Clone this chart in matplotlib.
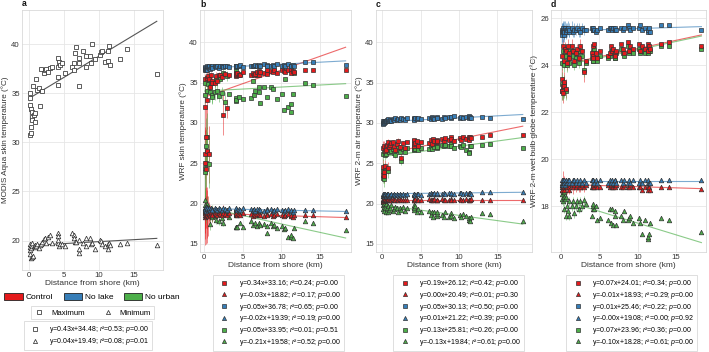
import matplotlib
matplotlib.use('Agg')
import matplotlib.pyplot as plt
from matplotlib.lines import Line2D
from matplotlib.patches import Patch
import numpy as np

plt.rcParams['font.family'] = ['Liberation Sans', 'DejaVu Sans']
plt.rcParams['mathtext.fontset'] = 'custom'
plt.rcParams['mathtext.rm'] = 'Liberation Sans'
plt.rcParams['mathtext.it'] = 'Liberation Sans:italic'

# ---------------- data ----------------
distance_km = [0.1, 0.12, 0.15, 0.2, 0.25, 0.3, 0.35, 0.4, 0.45, 0.5,
               0.6, 0.7, 0.8, 0.9, 1.0, 1.1, 1.4, 1.6, 1.7, 1.9,
               2.1, 2.3, 2.5, 2.7, 3.0, 3.3, 4.1, 4.2, 4.2, 4.2,
               4.3, 4.5, 4.7, 5.1, 6.1, 6.4, 6.5, 6.6, 6.8, 7.1,
               7.1, 7.2, 7.8, 8.1, 8.2, 8.7, 8.9, 9.0, 9.4, 10.1,
               10.3, 10.5, 10.9, 11.3, 11.3, 11.5, 11.6, 13.0, 14.1, 18.3]

# panel a: MODIS Aqua skin temperature
modis_max = [34.5, 35.0, 33.8, 30.8, 33.4, 31.0, 31.6, 32.6, 33.1, 32.3,
             35.8, 32.8, 32.1, 33.0, 36.5, 35.3, 35.6, 33.7, 37.5, 35.2,
             37.1, 37.4, 37.5, 37.2, 37.6, 37.7, 37.7, 38.6, 36.7, 35.9,
             38.2, 37.9, 38.1, 37.1, 37.7, 37.4, 38.1, 39.1, 39.7, 38.6,
             35.8, 38.1, 39.3, 38.8, 37.7, 38.8, 38.1, 40.0, 38.5, 38.9,
             39.2, 39.3, 38.2, 38.3, 39.3, 39.8, 37.9, 38.5, 39.5, 37.0]
modis_min = [19.0, 19.3, 18.6, 19.6, 19.25, 18.2, 19.5, 18.3, 19.4, 19.7,
             18.4, 19.4, 19.5, 19.3, 19.4, 19.6, 19.25, 19.5, 19.6, 19.9,
             20.2, 20.3, 19.8, 20.4, 20.6, 19.8, 20.8, 20.5, 19.7, 20.1,
             19.4, 19.6, 19.6, 19.4, 20.8, 20.6, 20.3, 19.9, 19.9, 20.1,
             18.7, 19.1, 19.8, 20.3, 19.4, 20.3, 19.6, 19.7, 19.1, 20.1,
             20.0, 19.6, 19.4, 19.1, 19.6, 19.8, 19.5, 19.6, 19.7, 19.5]
a_slope = [0.43, 0.04]
a_intercept = [34.48, 19.49]
a_r2 = [0.53, 0.08]
a_p = [0.00, 0.01]

# panel b: WRF skin temperature
b_ctrl_max = [26.1, 35.5, 32.0, 25.0, 28.3, 24.3, 35.6, 32.8, 26.5, 35.8,
              26.1, 35.5, 34.5, 35.9, 35.2, 34.9, 34.9, 35.8, 35.2, 36.0,
              35.9, 35.7, 31.0, 36.1, 31.8, 36.0, 36.2, 35.8, 36.0, 36.1,
              36.2, 36.0, 35.9, 36.3, 36.0, 36.2, 35.9, 36.1, 36.3, 36.4,
              36.0, 36.3, 36.2, 36.5, 36.1, 36.4, 36.3, 36.6, 36.2, 36.5,
              36.4, 36.3, 36.6, 36.5, 36.2, 36.4, 36.3, 36.5, 36.6, 36.5]
b_ctrl_min = [18.6, 18.9, 18.4, 18.8, 18.5, 19.0, 18.7, 18.6, 18.9, 18.5,
              18.7, 18.8, 18.6, 18.9, 18.7, 18.6, 18.8, 18.7, 18.6, 18.8,
              18.7, 18.6, 18.8, 18.7, 18.6, 18.8, 18.7, 18.6, 18.7, 18.8,
              18.6, 18.7, 18.6, 18.8, 18.7, 18.5, 18.7, 18.6, 18.7, 18.6,
              18.7, 18.6, 18.5, 18.7, 18.6, 18.7, 18.5, 18.6, 18.7, 18.6,
              18.5, 18.6, 18.7, 18.5, 18.6, 18.4, 18.6, 18.6, 18.6, 18.4]
b_nolake_max = [36.6, 36.8, 36.7, 36.9, 36.5, 36.8, 36.7, 37.0, 36.6, 36.9,
                36.8, 37.0, 36.7, 36.9, 37.1, 36.8, 37.0, 36.9, 37.1, 36.8,
                37.0, 37.1, 36.9, 37.0, 37.1, 36.9, 37.0, 37.1, 36.9, 37.0,
                37.1, 37.0, 37.2, 36.9, 37.0, 37.1, 37.0, 37.2, 37.1, 37.0,
                37.2, 37.1, 37.3, 37.2, 37.0, 37.1, 37.2, 37.0, 37.3, 37.1,
                37.2, 37.0, 37.3, 37.1, 37.0, 37.2, 37.1, 37.5, 37.5, 37.2]
b_nolake_min = [19.4, 19.2, 19.5, 19.3, 19.6, 19.1, 19.4, 19.3, 19.5, 19.2,
                19.3, 19.4, 19.2, 19.5, 19.3, 19.2, 19.4, 19.3, 19.2, 19.4,
                19.3, 19.2, 19.4, 19.3, 19.2, 19.4, 19.3, 19.2, 19.3, 19.4,
                19.2, 19.3, 19.2, 19.4, 19.3, 19.2, 19.3, 19.1, 19.3, 19.2,
                19.3, 19.2, 19.1, 19.3, 19.2, 19.3, 19.1, 19.2, 19.3, 19.2,
                19.1, 19.2, 19.3, 19.1, 19.2, 19.0, 19.2, 19.2, 19.2, 19.1]
b_nourban_max = [23.9, 33.5, 24.4, 35.0, 25.0, 27.1, 34.0, 28.2, 26.4, 34.8,
                 24.9, 35.3, 33.8, 34.9, 33.5, 33.2, 33.8, 35.5, 34.0, 33.4,
                 35.5, 33.7, 36.2, 32.6, 35.8, 33.6, 32.7, 36.5, 33.1, 32.8,
                 36.0, 33.2, 36.1, 33.0, 33.1, 35.2, 33.5, 34.0, 36.0, 34.5,
                 33.8, 32.5, 34.5, 33.2, 36.3, 34.4, 34.2, 36.4, 33.0, 33.6,
                 31.6, 35.5, 32.0, 32.3, 31.4, 33.6, 36.2, 34.9, 34.7, 33.3]
b_nourban_min = [20.5, 19.4, 19.8, 19.1, 18.6, 19.5, 20.0, 18.9, 19.6, 19.2,
                 18.8, 19.4, 17.5, 19.0, 18.3, 19.3, 18.5, 18.0, 19.1, 17.9,
                 19.0, 18.2, 17.6, 18.8, 19.1, 18.4, 17.1, 19.0, 17.1, 18.8,
                 17.1, 18.9, 17.6, 17.1, 17.8, 17.4, 19.1, 17.6, 17.2, 17.6,
                 19.0, 17.4, 17.5, 16.3, 17.2, 17.6, 17.2, 17.4, 17.0, 17.2,
                 16.9, 17.0, 15.8, 15.9, 16.1, 15.7, 17.0, 17.8, 17.6, 16.7]
# error bars for the 25 stations nearest to shore
b_ctrl_max_err = [3.0, 0.6, 4.0, 4.5, 3.5, 5.0, 0.5, 3.5, 3.0, 0.5, 3.5, 0.6, 1.0,
                  0.4, 0.5, 0.6, 0.4, 0.5, 0.4, 0.3, 0.3, 0.4, 2.5, 0.3, 1.2]
b_ctrl_min_err = [3.0, 2.0, 3.5, 2.5, 3.5, 2.0, 3.0, 3.5, 2.0, 2.5, 1.5, 1.0, 1.2,
                  0.8, 1.0, 0.8, 0.6, 0.5, 0.5, 0.4, 0.4, 0.3, 1.0, 0.3, 0.4]
b_nolake_max_err = [0.3, 0.2, 0.3, 0.2, 0.3, 0.2, 0.2, 0.3, 0.2, 0.2, 0.2, 0.2, 0.2,
                    0.2, 0.2, 0.2, 0.2, 0.2, 0.2, 0.2, 0.2, 0.2, 0.2, 0.2, 0.2]
b_nolake_min_err = [0.4, 0.3, 0.4, 0.3, 0.4, 0.3, 0.3, 0.3, 0.3, 0.3, 0.3, 0.2, 0.2,
                    0.2, 0.2, 0.2, 0.2, 0.2, 0.2, 0.2, 0.2, 0.2, 0.2, 0.2, 0.2]
b_nourban_max_err = [3.0, 1.0, 3.5, 0.8, 3.0, 3.5, 1.0, 3.0, 2.5, 0.8, 3.0, 1.0, 1.2,
                     0.8, 1.0, 0.8, 1.0, 0.6, 1.0, 0.8, 0.5, 0.8, 0.5, 1.2, 0.6]
b_nourban_min_err = [1.0, 0.8, 1.2, 0.6, 1.0, 0.8, 1.0, 0.6, 0.8, 0.6, 0.5, 0.6, 0.8,
                     0.5, 0.6, 0.5, 0.4, 0.5, 0.4, 0.5, 0.4, 0.5, 0.4, 0.5, 0.4]
b_slope = [0.34, -0.03, 0.05, -0.02, 0.05, -0.21]
b_intercept = [33.16, 18.82, 36.78, 19.39, 33.95, 19.58]
b_r2 = [0.24, 0.17, 0.65, 0.19, 0.01, 0.52]
b_p = [0.00, 0.00, 0.00, 0.00, 0.51, 0.00]

# panel c: WRF 2-m air temperature
c_ctrl_max = [26.9, 23.6, 24.5, 23.4, 27.2, 23.9, 26.5, 24.6, 27.0, 26.7,
              27.3, 24.4, 27.6, 27.0, 27.3, 27.5, 27.6, 27.0, 26.7, 27.4,
              27.8, 27.0, 25.6, 27.5, 26.9, 27.6, 27.7, 27.2, 27.4, 27.9,
              27.5, 27.8, 27.2, 27.6, 27.5, 27.9, 27.4, 28.0, 27.7, 27.6,
              27.9, 27.7, 28.0, 27.8, 28.1, 27.9, 28.3, 28.0, 27.8, 28.1,
              27.9, 28.2, 28.0, 28.3, 27.9, 28.2, 28.1, 28.3, 28.5, 28.5]
c_ctrl_min = [20.4, 20.6, 20.3, 20.5, 20.7, 20.4, 20.5, 20.6, 20.4, 20.5,
              20.5, 20.4, 20.6, 20.5, 20.4, 20.5, 20.6, 20.5, 20.4, 20.5,
              20.5, 20.6, 20.4, 20.5, 20.5, 20.4, 20.6, 20.5, 20.4, 20.5,
              20.6, 20.5, 20.4, 20.5, 20.6, 20.5, 20.4, 20.5, 20.6, 20.5,
              20.5, 20.4, 20.6, 20.5, 20.5, 20.4, 20.6, 20.5, 20.5, 20.6,
              20.5, 20.4, 20.6, 20.5, 20.4, 20.5, 20.6, 20.5, 20.5, 20.5]
c_nolake_max = [30.0, 30.2, 29.9, 30.1, 30.3, 30.0, 30.2, 30.1, 30.3, 30.2,
                30.4, 30.2, 30.5, 30.3, 30.4, 30.3, 30.5, 30.4, 30.6, 30.4,
                30.5, 30.4, 30.6, 30.5, 30.4, 30.6, 30.5, 30.6, 30.5, 30.4,
                30.6, 30.5, 30.6, 30.5, 30.6, 30.5, 30.7, 30.6, 30.5, 30.6,
                30.7, 30.6, 30.5, 30.7, 30.6, 30.7, 30.6, 30.7, 30.8, 30.6,
                30.7, 30.6, 30.7, 30.6, 30.8, 30.7, 30.6, 30.7, 30.6, 30.5]
c_nolake_min = [21.0, 21.2, 20.9, 21.1, 21.2, 21.0, 21.1, 21.2, 21.0, 21.1,
                21.2, 21.1, 21.2, 21.0, 21.1, 21.2, 21.1, 21.2, 21.1, 21.2,
                21.1, 21.2, 21.1, 21.2, 21.1, 21.2, 21.2, 21.1, 21.2, 21.2,
                21.1, 21.2, 21.2, 21.1, 21.2, 21.3, 21.2, 21.2, 21.3, 21.2,
                21.2, 21.3, 21.2, 21.3, 21.2, 21.3, 21.2, 21.3, 21.2, 21.3,
                21.3, 21.2, 21.3, 21.3, 21.2, 21.3, 21.2, 21.4, 21.4, 21.4]
c_nourban_max = [26.2, 23.2, 24.0, 23.0, 26.5, 23.5, 26.0, 24.2, 26.4, 26.1,
                 26.6, 24.0, 26.9, 26.4, 26.7, 26.5, 26.8, 26.3, 26.0, 26.7,
                 27.0, 26.4, 25.3, 26.8, 26.4, 26.9, 27.0, 26.6, 26.8, 27.1,
                 26.8, 27.1, 26.6, 26.9, 26.8, 27.2, 26.8, 27.3, 27.0, 26.9,
                 27.2, 27.0, 27.3, 27.1, 27.3, 27.1, 27.4, 27.2, 26.9, 27.2,
                 27.0, 27.3, 26.6, 26.4, 26.3, 27.1, 27.2, 27.3, 27.4, 26.9]
c_nourban_min = [20.2, 19.8, 19.3, 20.0, 19.6, 19.1, 20.3, 19.5, 18.9, 19.9,
                 19.4, 19.0, 19.7, 19.2, 19.5, 19.8, 19.1, 19.3, 19.6, 19.4,
                 19.0, 19.5, 19.2, 19.6, 19.1, 19.4, 19.6, 19.8, 19.2, 19.5,
                 19.7, 19.0, 19.3, 18.9, 19.1, 18.6, 18.9, 18.4, 19.0, 18.5,
                 18.7, 19.0, 18.6, 18.4, 18.9, 18.3, 18.8, 18.5, 18.2, 18.6,
                 18.4, 18.7, 18.5, 18.0, 18.2, 17.9, 18.3, 18.8, 18.7, 17.8]
c_ctrl_max_err = [0.8, 0.6, 1.0, 0.9, 0.6, 1.0, 0.5, 0.8, 0.5, 0.4, 0.5, 0.7, 0.4,
                  0.4, 0.3, 0.4, 0.3, 0.3, 0.3, 0.3, 0.3, 0.3, 0.6, 0.3, 0.3]
c_ctrl_min_err = [0.3, 0.3, 0.4, 0.3, 0.3, 0.3, 0.3, 0.2, 0.2, 0.2, 0.2, 0.2, 0.2,
                  0.2, 0.2, 0.2, 0.2, 0.2, 0.2, 0.2, 0.2, 0.2, 0.2, 0.2, 0.2]
c_nolake_max_err = [0.2, 0.2, 0.2, 0.2, 0.2, 0.2, 0.2, 0.2, 0.2, 0.2, 0.2, 0.2, 0.2,
                    0.2, 0.2, 0.2, 0.2, 0.2, 0.2, 0.2, 0.2, 0.2, 0.2, 0.2, 0.2]
c_nolake_min_err = [0.2, 0.2, 0.2, 0.2, 0.2, 0.2, 0.2, 0.2, 0.2, 0.2, 0.2, 0.2, 0.2,
                    0.2, 0.2, 0.2, 0.2, 0.2, 0.2, 0.2, 0.2, 0.2, 0.2, 0.2, 0.2]
c_nourban_max_err = [0.9, 0.7, 1.1, 1.0, 0.6, 1.0, 0.6, 0.8, 0.6, 0.5, 0.6, 0.8, 0.5,
                     0.4, 0.4, 0.4, 0.3, 0.3, 0.3, 0.3, 0.3, 0.3, 0.5, 0.3, 0.3]
c_nourban_min_err = [0.4, 0.3, 0.4, 0.3, 0.3, 0.3, 0.3, 0.3, 0.3, 0.3, 0.3, 0.3, 0.2,
                     0.2, 0.2, 0.2, 0.2, 0.2, 0.2, 0.2, 0.2, 0.2, 0.2, 0.2, 0.2]
c_slope = [0.19, 0.00, 0.05, 0.01, 0.13, -0.13]
c_intercept = [26.12, 20.49, 30.13, 21.22, 25.81, 19.84]
c_r2 = [0.42, 0.01, 0.50, 0.39, 0.26, 0.61]
c_p = [0.00, 0.30, 0.00, 0.00, 0.00, 0.00]

# panel d: WRF 2-m wet bulb globe temperature
d_ctrl_max = [22.9, 24.4, 23.4, 23.1, 24.8, 22.8, 23.3, 24.2, 23.1, 24.7,
              24.6, 23.0, 24.1, 24.8, 24.5, 24.3, 24.8, 24.6, 24.2, 24.5,
              24.7, 24.3, 24.8, 24.6, 23.7, 24.2, 24.5, 24.8, 24.4, 24.3,
              24.9, 24.5, 24.3, 24.6, 24.4, 24.5, 24.8, 24.6, 24.7, 24.5,
              24.4, 24.6, 24.9, 24.7, 24.5, 25.0, 24.6, 24.8, 24.7, 24.9,
              24.6, 24.8, 24.7, 24.9, 24.6, 24.8, 24.7, 24.9, 25.0, 24.8]
d_ctrl_min = [18.8, 18.9, 18.7, 18.9, 19.0, 18.8, 18.9, 18.8, 18.7, 18.9,
              18.8, 18.9, 18.8, 18.9, 18.8, 18.7, 18.9, 18.8, 18.9, 18.8,
              18.9, 18.8, 18.8, 18.9, 18.8, 18.9, 18.8, 18.9, 18.8, 18.9,
              18.8, 18.9, 18.8, 18.8, 18.9, 18.8, 18.9, 18.8, 18.8, 18.9,
              18.8, 18.9, 18.8, 18.8, 18.9, 18.8, 18.8, 18.9, 18.8, 18.8,
              18.8, 18.7, 18.8, 18.8, 18.7, 18.8, 18.7, 18.8, 18.8, 18.75]
d_nolake_max = [25.4, 25.5, 25.3, 25.5, 25.4, 25.6, 25.5, 25.3, 25.4, 25.6,
                25.5, 25.4, 25.5, 25.6, 25.4, 25.5, 25.6, 25.4, 25.5, 25.5,
                25.6, 25.5, 25.4, 25.6, 25.5, 25.5, 25.6, 25.5, 25.5, 25.6,
                25.5, 25.4, 25.5, 25.6, 25.5, 25.6, 25.6, 25.5, 25.6, 25.5,
                25.6, 25.5, 25.6, 25.5, 25.6, 25.7, 25.6, 25.5, 25.6, 25.6,
                25.7, 25.5, 25.6, 25.4, 25.5, 25.6, 25.4, 25.7, 25.7, 25.5]
d_nolake_min = [19.0, 19.1, 18.9, 19.0, 19.1, 18.9, 19.0, 19.1, 19.0, 18.9,
                19.0, 19.1, 19.0, 19.1, 19.0, 19.1, 19.0, 19.1, 19.1, 19.0,
                19.1, 19.0, 19.1, 19.0, 19.1, 19.0, 19.1, 19.1, 19.0, 19.1,
                19.0, 19.1, 19.0, 19.1, 19.0, 19.1, 19.0, 19.1, 19.0, 19.1,
                19.1, 19.0, 19.1, 19.0, 19.1, 19.0, 19.1, 19.0, 19.1, 19.0,
                19.1, 19.0, 19.1, 19.0, 19.1, 19.0, 19.0, 19.1, 19.1, 19.1]
d_nourban_max = [22.9, 24.1, 23.2, 23.0, 24.6, 22.9, 23.2, 24.0, 23.0, 24.5,
                 24.4, 22.9, 24.0, 24.6, 24.3, 24.1, 24.6, 24.4, 24.0, 24.3,
                 24.5, 24.1, 24.6, 24.4, 23.8, 24.1, 24.3, 24.6, 24.2, 24.2,
                 24.7, 24.3, 24.2, 24.4, 24.3, 24.4, 24.6, 24.5, 24.5, 24.3,
                 24.3, 24.5, 24.7, 24.5, 24.4, 24.8, 24.5, 24.6, 24.5, 24.7,
                 24.5, 24.6, 24.5, 24.7, 24.5, 24.6, 24.6, 24.8, 24.8, 24.7]
d_nourban_min = [18.7, 18.5, 18.3, 18.6, 18.2, 18.8, 18.4, 17.9, 18.6, 18.3,
                 17.6, 18.4, 18.0, 17.8, 18.2, 17.6, 18.0, 18.2, 17.7, 18.0,
                 18.2, 17.9, 18.2, 18.0, 18.25, 18.1, 17.6, 17.9, 18.0, 18.1,
                 17.9, 18.0, 17.4, 17.5, 17.4, 17.9, 17.3, 17.9, 17.2, 17.6,
                 17.8, 17.2, 17.6, 17.4, 17.8, 17.4, 17.5, 17.6, 17.3, 17.5,
                 17.3, 16.8, 17.4, 16.6, 16.7, 16.8, 17.3, 17.5, 17.4, 16.9]
d_ctrl_max_err = [0.4, 0.3, 0.5, 0.4, 0.3, 0.4, 0.4, 0.3, 0.4, 0.3, 0.3, 0.4, 0.3,
                  0.3, 0.3, 0.2, 0.3, 0.2, 0.2, 0.2, 0.2, 0.2, 0.3, 0.2, 0.4]
d_ctrl_min_err = [0.4, 0.3, 0.4, 0.3, 0.5, 0.3, 0.4, 0.3, 0.3, 0.3, 0.3, 0.2, 0.3,
                  0.2, 0.2, 0.2, 0.2, 0.3, 0.2, 0.2, 0.2, 0.2, 0.2, 0.2, 0.2]
d_nolake_max_err = [0.4, 0.3, 0.4, 0.3, 0.4, 0.3, 0.4, 0.3, 0.3, 0.3, 0.3, 0.3, 0.3,
                    0.3, 0.2, 0.3, 0.3, 0.2, 0.3, 0.2, 0.2, 0.3, 0.2, 0.2, 0.2]
d_nolake_min_err = [0.1, 0.1, 0.1, 0.1, 0.1, 0.1, 0.1, 0.1, 0.1, 0.1, 0.1, 0.1, 0.1,
                    0.1, 0.1, 0.1, 0.1, 0.1, 0.1, 0.1, 0.1, 0.1, 0.1, 0.1, 0.1]
d_nourban_max_err = [0.4, 0.3, 0.5, 0.4, 0.3, 0.4, 0.4, 0.3, 0.4, 0.3, 0.3, 0.4, 0.3,
                     0.3, 0.3, 0.2, 0.3, 0.2, 0.2, 0.2, 0.2, 0.2, 0.3, 0.2, 0.3]
d_nourban_min_err = [0.2, 0.2, 0.2, 0.2, 0.2, 0.2, 0.2, 0.2, 0.2, 0.2, 0.2, 0.2, 0.2,
                     0.2, 0.2, 0.2, 0.2, 0.2, 0.2, 0.2, 0.2, 0.2, 0.2, 0.2, 0.2]
d_slope = [0.07, -0.01, 0.01, -0.00, 0.07, -0.10]
d_intercept = [24.01, 18.93, 25.46, 19.08, 23.96, 18.28]
d_r2 = [0.34, 0.29, 0.22, 0.00, 0.36, 0.61]
d_p = [0.00, 0.00, 0.00, 0.92, 0.00, 0.00]
d_slope_sign = ['', '-', '', '-', '', '-']
b_slope_sign = ['', '-', '', '-', '', '-']
c_slope_sign = ['', '', '', '', '', '-']
a_slope_sign = ['', '']

scenarios = ['Control', 'No lake', 'No urban']
scenario_colors = ['#e41a1c', '#377eb8', '#4daf4a']

# ---------------- style ----------------
FS = 5.6
GRID = '#e6e6e6'
SPINE = '#d9d9d9'
EDGE = '#333333'
TXT = '#333333'

fig = plt.figure(figsize=(7.09, 3.52), dpi=100)

def style_axes(ax, xlim, ylim, yticks, ylabel, letter):
    ax.set_xlim(*xlim)
    ax.set_ylim(*ylim)
    ax.set_xticks([0, 5, 10, 15])
    ax.set_yticks(yticks)
    ax.grid(True, color=GRID, lw=0.6)
    ax.set_axisbelow(True)
    for s in ax.spines.values():
        s.set_color(SPINE)
        s.set_linewidth(0.6)
    ax.tick_params(length=0, labelsize=FS, labelcolor=TXT, pad=1.5)
    ax.set_xlabel('Distance from shore (km)', fontsize=FS + 0.4, color=TXT, labelpad=1)
    ax.set_ylabel(ylabel, fontsize=FS + 0.3, color=TXT, labelpad=1.5)
    ax.text(0.0, 1.006, letter, transform=ax.transAxes, fontsize=FS + 0.6,
            fontweight='bold', va='bottom', ha='left', color='#111111')

def fmt_eq(sign, s, i, r2, p):
    return 'y=%s%.2fx+%.2f; $r$²=%.2f; $p$=%.2f' % (sign, abs(s), i, r2, p)

x = np.array(distance_km)
xline = np.array([min(distance_km), max(distance_km)])

# ---------------- panel a ----------------
axa = fig.add_axes([0.0310, 0.233, 0.1990, 0.7386])
style_axes(axa, (-1.0, 19.2), (17.0, 43.5), [20, 25, 30, 35, 40],
           'MODIS Aqua skin temperature (°C)', 'a')
for k, (vals, mk) in enumerate([(modis_max, 's'), (modis_min, '^')]):
    axa.plot(xline, a_slope[k] * xline + a_intercept[k], color='#555555', lw=0.8, zorder=2)
    axa.plot(x, vals, linestyle='none', marker=mk, ms=3.3, mfc='white',
             mec='#333333', mew=0.55, zorder=3)

# ---------------- panels b, c, d ----------------
def wrf_panel(rect, xlim, ylim, yticks, ylabel, letter, series, errs, slopes, icpts):
    ax = fig.add_axes(rect)
    style_axes(ax, xlim, ylim, yticks, ylabel, letter)
    nerr = len(errs[0])
    for k in range(6):
        col = scenario_colors[k // 2]
        ax.plot(xline, slopes[k] * xline + icpts[k], color=col, lw=0.8, alpha=0.65, zorder=2)
    for k in range(6):
        col = scenario_colors[k // 2]
        ax.errorbar(x[:nerr], np.array(series[k])[:nerr], yerr=errs[k], fmt='none',
                    ecolor=col, elinewidth=0.7, alpha=0.5, capsize=0, zorder=3)
    for sc in [2, 0, 1]:
        for m in range(2):
            k = sc * 2 + m
            ax.plot(x, series[k], linestyle='none', marker='s' if m == 0 else '^',
                    ms=3.3, mfc=scenario_colors[sc], mec=EDGE, mew=0.5, zorder=4)
    return ax

b_series = [b_ctrl_max, b_ctrl_min, b_nolake_max, b_nolake_min, b_nourban_max, b_nourban_min]
b_errs = [b_ctrl_max_err, b_ctrl_min_err, b_nolake_max_err, b_nolake_min_err,
          b_nourban_max_err, b_nourban_min_err]
c_series = [c_ctrl_max, c_ctrl_min, c_nolake_max, c_nolake_min, c_nourban_max, c_nourban_min]
c_errs = [c_ctrl_max_err, c_ctrl_min_err, c_nolake_max_err, c_nolake_min_err,
          c_nourban_max_err, c_nourban_min_err]
d_series = [d_ctrl_max, d_ctrl_min, d_nolake_max, d_nolake_min, d_nourban_max, d_nourban_min]
d_errs = [d_ctrl_max_err, d_ctrl_min_err, d_nolake_max_err, d_nolake_min_err,
          d_nourban_max_err, d_nourban_min_err]

wrf_panel([0.2821, 0.2841, 0.2130, 0.6875], (-0.5, 19.0), (14.0, 44.0),
          [15, 20, 25, 30, 35, 40], 'WRF skin temperature (°C)', 'b',
          b_series, b_errs, b_slope, b_intercept)
wrf_panel([0.5303, 0.2841, 0.2200, 0.6875], (-0.8, 19.5), (14.0, 44.0),
          [15, 20, 25, 30, 35, 40], 'WRF 2-m air temperature (°C)', 'c',
          c_series, c_errs, c_slope, c_intercept)
wrf_panel([0.7772, 0.2841, 0.2186, 0.6875], (-1.3, 18.9), (16.05, 26.35),
          [18, 20, 22, 24, 26], 'WRF 2-m wet bulb globe temperature (°C)', 'd',
          d_series, d_errs, d_slope, d_intercept)

# ---------------- legends ----------------
LFS = 5.0
patch_handles = [Patch(facecolor=c, edgecolor='#222222', lw=0.6) for c in scenario_colors]
fig.legend(patch_handles, scenarios, loc='center', bbox_to_anchor=(0.130, 0.156),
           ncol=3, frameon=False, fontsize=FS + 0.4, handlelength=2.2, handleheight=0.9,
           columnspacing=1.2, handletextpad=0.4)

mk_handles = [Line2D([], [], linestyle='none', marker='s', ms=3.0, mfc='white', mec='#333', mew=0.55),
              Line2D([], [], linestyle='none', marker='^', ms=3.0, mfc='white', mec='#333', mew=0.55)]
leg = fig.legend(mk_handles, ['Maximum', 'Minimum'], loc='center', bbox_to_anchor=(0.130, 0.111),
                 ncol=2, frameon=True, fontsize=FS, handlelength=1.5, columnspacing=2.2,
                 handletextpad=0.8, borderpad=0.35, fancybox=False)
leg.get_frame().set_edgecolor('#d0d0d0'); leg.get_frame().set_linewidth(0.6)

a_labels = [fmt_eq(a_slope_sign[k], a_slope[k], a_intercept[k], a_r2[k], a_p[k]) for k in range(2)]
leg = fig.legend(mk_handles, a_labels, loc='center', bbox_to_anchor=(0.124, 0.046),
                 frameon=True, fontsize=LFS, handlelength=2.3, handletextpad=0.9,
                 borderpad=0.45, labelspacing=0.1, fancybox=False)
leg.get_frame().set_edgecolor('#d0d0d0'); leg.get_frame().set_linewidth(0.6)

def reg_legend(cx, signs, slopes, icpts, r2s, ps):
    handles = []
    labels = []
    for k in range(6):
        handles.append(Line2D([], [], linestyle='none', marker='s' if k % 2 == 0 else '^',
                              ms=3.0, mfc=scenario_colors[k // 2], mec=EDGE, mew=0.5))
        labels.append(fmt_eq(signs[k], slopes[k], icpts[k], r2s[k], ps[k]))
    leg = fig.legend(handles, labels, loc='center', bbox_to_anchor=(cx, 0.111),
                     frameon=True, fontsize=LFS, handlelength=2.3, handletextpad=0.9,
                     borderpad=0.5, labelspacing=0.1, fancybox=False)
    leg.get_frame().set_edgecolor('#d0d0d0'); leg.get_frame().set_linewidth(0.6)

reg_legend(0.393, b_slope_sign, b_slope, b_intercept, b_r2, b_p)
reg_legend(0.647, c_slope_sign, c_slope, c_intercept, c_r2, c_p)
reg_legend(0.891, d_slope_sign, d_slope, d_intercept, d_r2, d_p)

fig.savefig('out.png', dpi=100, facecolor='white')
